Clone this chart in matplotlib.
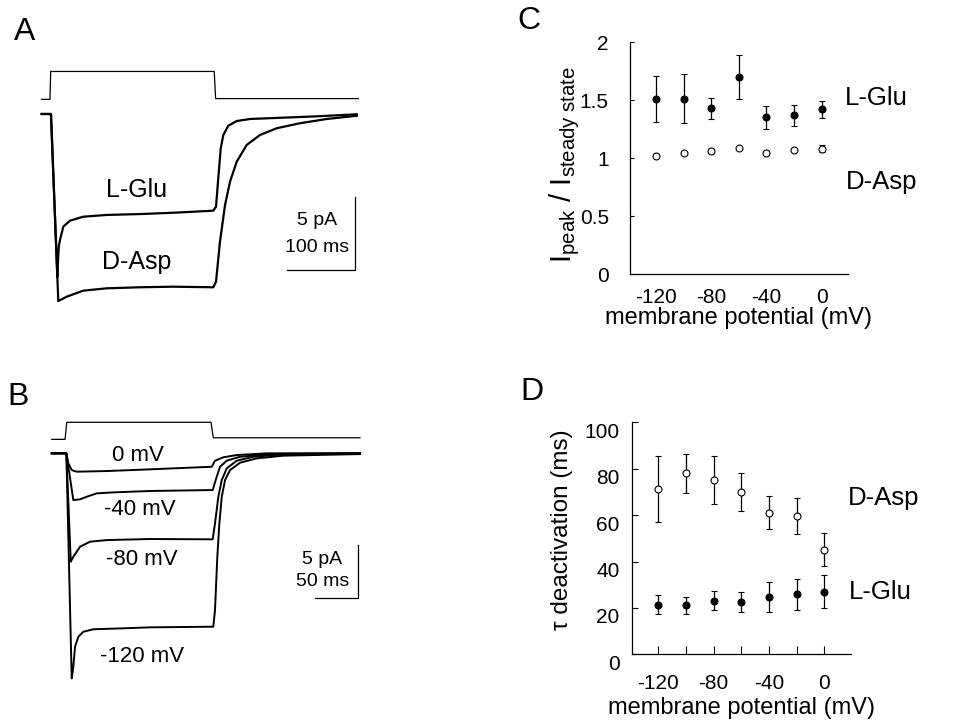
import matplotlib
matplotlib.use("Agg")
import matplotlib.pyplot as plt
from matplotlib.transforms import ScaledTranslation

plt.rcParams['font.family'] = ['Liberation Sans', 'DejaVu Sans']
plt.rcParams['mathtext.fontset'] = 'custom'
plt.rcParams['mathtext.rm'] = 'Liberation Sans'
plt.rcParams['mathtext.it'] = 'Liberation Sans:italic'

# --- A: currents (pA) vs time (ms), step onset at t = 0
a_cmd_t = [-14, -1.5, -0.4, 239, 241, 450]
a_cmd_level = [1.0, 1.0, 2.9, 2.9, 1.05, 1.05]

a_glu_t = [-13.6, 0, 9.3, 10.3, 11.5, 13.2, 18.0, 27.8, 47.3, 81.6, 130.3, 179.1, 237.6,
           241.6, 244.9, 248.5, 252.3, 259.6, 271.9, 291.4, 340.1, 389.0, 447.6]
a_glu_i = [0, 0, -11.1, -10.0, -9.0, -8.59, -7.68, -7.27, -7.00, -6.88, -6.82, -6.73, -6.59,
           -6.32, -4.38, -2.34, -1.43, -0.80, -0.48, -0.34, -0.25, -0.16, -0.02]

a_asp_t = [-13.6, 0, 10.7, 23.0, 47.3, 81.6, 130.3, 179.1, 237.6, 241.6, 247.4, 254.8,
           262.1, 271.9, 286.5, 306.0, 330.5, 364.6, 403.7, 447.6]
a_asp_i = [0, 0, -12.75, -12.45, -12.04, -11.88, -11.81, -11.77, -11.81, -11.43, -8.70, -6.20,
           -4.61, -3.25, -2.11, -1.43, -0.97, -0.63, -0.34, -0.12]

# --- B: currents at four holding potentials
b_cmd_t = [-17.1, -1.5, 0.5, 169.6, 172.3, 344.3]
b_cmd_level = [1.31, 1.31, 2.91, 2.91, 1.46, 1.46]

b_labels = ["0 mV", "-40 mV", "-80 mV", "-120 mV"]
b_t = [
    [-17.1, -1.5, 0, 2.3, 6.3, 12.2, 47.4, 98.1, 170.5, 174.3, 184.1, 199.8, 234.9, 344.3],
    [-17.1, -1.5, 0, 8.2, 16.1, 23.9, 35.6, 55.1, 98.1, 171.6, 176.3, 180.2, 188.0, 203.6,
     234.9, 254.4, 344.3],
    [-17.1, -1.5, 0, 5.2, 8.2, 16.1, 27.8, 47.4, 98.1, 171.6, 174.3, 178.2, 182.2, 188.0,
     199.8, 219.2, 254.4, 344.3],
    [-17.1, -1.5, 0, 6.3, 8.2, 10.2, 14.1, 19.9, 31.7, 66.8, 98.1, 172.3, 174.3, 175.8,
     177.0, 179.4, 182.2, 186.1, 191.9, 203.6, 223.2, 254.4, 344.3],
]
b_i = [
    [0, 0, 0, -0.94, -1.57, -1.72, -1.66, -1.50, -1.26, -0.69, -0.37, -0.16, 0, 0],
    [0, 0, 0, -4.38, -4.31, -4.07, -3.75, -3.66, -3.53, -3.44, -2.19, -1.26, -0.69, -0.32,
     -0.09, -0.05, 0],
    [0, 0, 0, -10.16, -9.69, -8.75, -8.28, -8.13, -8.03, -8.06, -6.56, -4.07, -2.50, -1.41,
     -0.69, -0.32, -0.09, 0],
    [0, 0, 0, -21.09, -20.0, -18.13, -17.19, -16.72, -16.49, -16.40, -16.31, -16.25, -14.69,
     -11.87, -9.69, -6.56, -4.07, -2.50, -1.57, -0.88, -0.47, -0.22, -0.07],
]

# --- C and D: summary data
potential = [-120, -100, -80, -60, -40, -20, 0]
glu_ratio = [1.51, 1.51, 1.43, 1.70, 1.35, 1.37, 1.42]
glu_ratio_err = [0.20, 0.21, 0.09, 0.19, 0.10, 0.09, 0.075]
asp_ratio = [1.02, 1.04, 1.06, 1.09, 1.04, 1.07, 1.08]
asp_ratio_err = [0.01, 0.01, 0.015, 0.015, 0.01, 0.01, 0.03]

asp_tau = [71.1, 78.0, 75.1, 69.8, 61.0, 59.6, 45.0]
asp_tau_err = [14.2, 8.4, 10.5, 8.2, 7.2, 7.9, 7.1]
glu_tau = [21.4, 21.1, 23.1, 22.7, 24.6, 25.9, 27.0]
glu_tau_err = [4.1, 3.8, 4.0, 4.3, 6.5, 6.6, 7.1]

W, H = 954, 725
fig = plt.figure(figsize=(W / 100, H / 100), dpi=100)


def px_axes(x0, y0, x1, y1):
    # axes box given in pixels from the top-left corner
    return fig.add_axes([x0 / W, 1 - y1 / H, (x1 - x0) / W, (y1 - y0) / H])


def scale_bar(ax, t_end, i_bottom, dt, di, txt_t, txt1, txt2, txt_i1, txt_i2):
    ax.plot([t_end - dt, t_end, t_end], [i_bottom, i_bottom, i_bottom + di], color='k', lw=0.9)
    ax.text(txt_t, txt_i1, txt1, ha='center', va='center', fontsize=14)
    ax.text(txt_t, txt_i2, txt2, ha='center', va='center', fontsize=14)


# Panel A
axA = px_axes(30, 60, 370, 320)
axA.set_xlim(-30.7, 467.0)
axA.set_ylim(-14.04, 3.68)
axA.axis('off')
axA.plot(a_cmd_t, a_cmd_level, color='k', lw=0.9)
axA.plot(a_glu_t, a_glu_i, color='k', lw=1.6)
axA.plot(a_asp_t, a_asp_i, color='k', lw=1.6)
axA.text(125.5, -5.18, "L-Glu", ha='center', va='center', fontsize=18)
axA.text(125.5, -10.07, "D-Asp", ha='center', va='center', fontsize=18)
scale_bar(axA, 445.1, -10.63, 100, 5, 389.5, "5 pA", "100 ms", -7.23, -9.07)

# Panel B
axB = px_axes(30, 405, 370, 700)
axB.set_xlim(-42.6, 356.0)
axB.set_ylim(-23.12, 4.53)
axB.axis('off')
axB.plot(b_cmd_t, b_cmd_level, color='k', lw=0.9)
for t, i in zip(b_t, b_i):
    axB.plot(t, i, color='k', lw=1.4)
b_label_pos = [(84.4, -0.25), (86.4, -5.31), (88.4, -9.93), (88.4, -19.0)]
for lab, (tx, ty) in zip(b_labels, b_label_pos):
    axB.text(tx, ty, lab, ha='center', va='center', fontsize=16)
scale_bar(axB, 341.6, -13.59, 50, 5, 300.3, "5 pA", "50 ms", -9.91, -12.03)


def summary_axes(ax):
    ax.spines['top'].set_visible(False)
    ax.spines['right'].set_visible(False)
    for s in ('left', 'bottom'):
        ax.spines[s].set_linewidth(0.9)
    ax.set_xlim(-139, 19)
    ax.set_xticks([-120, -80, -40, 0])
    ax.set_xticklabels(["-120", "-80", "-40", "0"])


def plot_series(ax, y, err, filled):
    ax.errorbar(potential, y, yerr=err, fmt='o', ms=5, mfc='k' if filled else 'white',
                mec='k', mew=0.8, ecolor='k', elinewidth=0.9, capsize=2, capthick=0.8,
                clip_on=False, zorder=3)


# Panel C
axC = px_axes(629.7, 42, 848, 274)
summary_axes(axC)
axC.set_ylim(0, 2)
axC.set_yticks([0, 0.5, 1, 1.5, 2])
axC.set_yticklabels(["0", "0.5", "1", "1.5", "2"])
axC.tick_params(axis='y', direction='in', length=3, width=0.8, pad=15, labelsize=15)
axC.tick_params(axis='x', length=0, pad=10, labelsize=15)
plot_series(axC, glu_ratio, glu_ratio_err, True)
plot_series(axC, asp_ratio, asp_ratio_err, False)
axC.set_xlabel("membrane potential (mV)", fontsize=17, labelpad=0)
axC.set_ylabel(r"I$_{\mathrm{peak}}$ / I$_{\mathrm{steady\ state}}$", fontsize=21, va='center')
axC.yaxis.set_label_coords(-0.30, 0.47)
axC.text(39.6, 1.515, "L-Glu", ha='center', va='center', fontsize=18.5, clip_on=False)
axC.text(43.2, 0.796, "D-Asp", ha='center', va='center', fontsize=18.5, clip_on=False)

# Panel D
axD = px_axes(632, 422.3, 850.7, 654.3)
summary_axes(axD)
axD.set_ylim(0, 100)
axD.set_yticks([0, 20, 40, 60, 80, 100])
axD.set_xticks([-100, -60, -20], minor=True)
axD.tick_params(axis='y', direction='in', length=4.5, width=0.8, pad=9, labelsize=15)
axD.tick_params(axis='x', which='both', direction='in', length=5.5, width=0.8, pad=14,
                labelsize=15)
for lab in axD.get_yticklabels():
    lab.set_transform(lab.get_transform() + ScaledTranslation(0, -0.08, fig.dpi_scale_trans))
plot_series(axD, asp_tau, asp_tau_err, False)
plot_series(axD, glu_tau, glu_tau_err, True)
axD.set_xlabel("membrane potential (mV)", fontsize=17, labelpad=3)
axD.set_ylabel("τ deactivation (ms)", fontsize=17.5, va='center')
axD.yaxis.set_label_coords(-0.32, 0.536)
axD.text(42.9, 67.2, "D-Asp", ha='center', va='center', fontsize=18.5, clip_on=False)
axD.text(40.6, 27.0, "L-Glu", ha='center', va='center', fontsize=18.5, clip_on=False)

# panel letters
for letter, (px, py) in {"A": (25, 32.5), "B": (18.3, 396.7),
                         "C": (529.3, 20.7), "D": (531.7, 391.7)}.items():
    fig.text(px / W, 1 - py / H, letter, ha='center', va='center', fontsize=23)

fig.savefig("out.png", dpi=100)
